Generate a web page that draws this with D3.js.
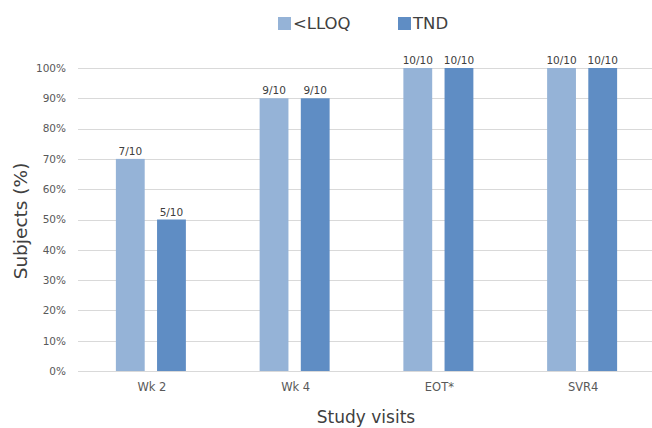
<!DOCTYPE html>
<html><head><meta charset="utf-8">
<script src="https://cdn.jsdelivr.net/npm/d3@7"></script>
<style>body{margin:0;background:#fff;} svg{display:block;font-family:"DejaVu Sans",sans-serif;}</style>
</head><body>
<svg id="c" width="652" height="428"></svg>
<script>
const categories = ["Wk 2", "Wk 4", "EOT*", "SVR4"];
const seriesNames = ["<LLOQ", "TND"];
const lloqValues = [70, 90, 100, 100];
const tndValues = [50, 90, 100, 100];
const lloqLabels = ["7/10", "9/10", "10/10", "10/10"];
const tndLabels = ["5/10", "9/10", "10/10", "10/10"];
const yTicks = [0, 10, 20, 30, 40, 50, 60, 70, 80, 90, 100];
const colors = ["#95b3d7", "#5f8dc4"];

const svg = d3.select("#c");
const x = d3.scaleBand().domain(categories).range([79, 654]);
const y = d3.scaleLinear().domain([0, 100]).range([371, 68]);
const inner = d3.scaleBand().domain(seriesNames).range([-35, 35]).paddingInner(0.3);

// gridlines
svg.append("g").selectAll("line").data(yTicks).join("line")
  .attr("x1", 78).attr("x2", 652)
  .attr("y1", d => Math.round(y(d)) + 0.5).attr("y2", d => Math.round(y(d)) + 0.5)
  .attr("stroke", "#d9d9d9").attr("stroke-width", 1);

// y axis labels
const yAxis = d3.axisLeft(y).tickValues(yTicks).tickFormat(d => d + "%").tickSize(0).tickPadding(0);
const ya = svg.append("g").attr("transform", "translate(66,0)").call(yAxis);
ya.select(".domain").remove();
ya.selectAll("text").attr("fill", "#595959").style("font-size", "10.5px").style("font-family", "DejaVu Sans");

// x axis labels
const xAxis = d3.axisBottom(x).tickSize(0).tickPadding(0);
const xa = svg.append("g").attr("transform", "translate(1,383)").call(xAxis);
xa.select(".domain").remove();
xa.selectAll("text").attr("fill", "#595959").style("font-size", "11.5px").style("font-family", "DejaVu Sans");

const series = [
  {name: seriesNames[0], values: lloqValues, labels: lloqLabels, color: colors[0]},
  {name: seriesNames[1], values: tndValues, labels: tndLabels, color: colors[1]}
];

series.forEach(s => {
  const g = svg.append("g");
  g.selectAll("rect").data(categories).join("rect")
    .attr("x", (c) => x(c) + x.bandwidth() / 2 + inner(s.name))
    .attr("width", inner.bandwidth())
    .attr("y", (c, i) => y(s.values[i]))
    .attr("height", (c, i) => y(0) - y(s.values[i]))
    .attr("fill", s.color);
  g.selectAll("text").data(categories).join("text")
    .attr("x", (c) => x(c) + x.bandwidth() / 2 + inner(s.name) + inner.bandwidth() / 2)
    .attr("y", (c, i) => y(s.values[i]) - 4)
    .attr("text-anchor", "middle")
    .attr("fill", "#404040")
    .style("font-size", "10.5px")
    .text((c, i) => s.labels[i]);
});

// legend
const legendX = [278, 398];
series.forEach((s, i) => {
  svg.append("rect").attr("x", legendX[i]).attr("y", 17).attr("width", 13).attr("height", 13).attr("fill", s.color);
  svg.append("text").attr("x", legendX[i] + 15).attr("y", 29)
    .attr("fill", "#404040").style("font-size", "16.5px").text(s.name);
});

// axis titles
svg.append("text").attr("transform", "translate(27,221) rotate(-90)")
  .attr("text-anchor", "middle").attr("fill", "#404040").style("font-size", "18.5px").text("Subjects (%)");
svg.append("text").attr("x", 366).attr("y", 423)
  .attr("text-anchor", "middle").attr("fill", "#404040").style("font-size", "17px").text("Study visits");
</script>
</body></html>
